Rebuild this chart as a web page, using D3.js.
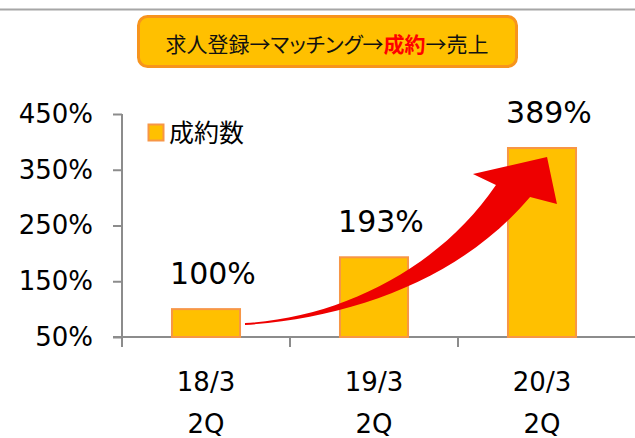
<!DOCTYPE html>
<html>
<head>
<meta charset="utf-8">
<script src="https://cdn.jsdelivr.net/npm/d3@7/dist/d3.min.js"></script>
<style>
  html, body { margin: 0; padding: 0; background: #fff; }
  svg { display: block; }
  text { font-family: "DejaVu Sans", Verdana, sans-serif; fill: #000; }
  .cjk { font-family: "Noto Sans CJK JP", "Noto Sans", sans-serif; }
  .banner { font-feature-settings: "palt"; }
</style>
</head>
<body>
<svg id="chart" width="635" height="438"></svg>
<script>
// Contracts closed, indexed to 18/3 2Q = 100%
const categories = ["18/3", "19/3", "20/3"];
const periodLabels = ["2Q", "2Q", "2Q"];
const contractIndex = [100, 193, 389];
const yTicks = [50, 150, 250, 350, 450];
const seriesName = "成約数";
const flowSteps = ["求人登録", "→マッチング→", "成約", "→売上"];

// Growth arrow outline, in (category position, index %) space
const arrowUpper = [[0.732, 75.1], [1.298, 84.1], [1.893, 173.8], [2.226, 322.6]];
const arrowHead = [[2.089, 342.4], [2.530, 372.9], [2.589, 288.6], [2.429, 301.1]];
const arrowLower = [[2.012, 152.2], [1.357, 84.1], [0.732, 71.5]];

const svg = d3.select("#chart");
const axisColor = "#8c8c8c";
const barFill = "#ffc000";
const barStroke = "#f79646";

const x = d3.scaleBand().domain(categories).range([122, 626]).paddingInner(0.595).paddingOuter(0.2975);
const xPos = d3.scaleLinear().domain([0, categories.length]).range([122, 626]);
const y = d3.scaleLinear().domain([50, 450]).range([337, 114]);

// Slide top rule
svg.append("line").attr("x1", 0).attr("x2", 635).attr("y1", 9.5).attr("y2", 9.5)
  .attr("stroke", "#a6a6a6").attr("stroke-width", 2);

// Process flow banner
svg.append("rect").attr("x", 138.5).attr("y", 16.5).attr("width", 378).attr("height", 50)
  .attr("rx", 9).attr("fill", barFill).attr("stroke", "#f7941d").attr("stroke-width", 3);
const banner = svg.append("text").attr("class", "cjk banner")
  .attr("x", 327).attr("y", 52).attr("text-anchor", "middle")
  .style("font-size", "21px");
banner.selectAll("tspan").data(flowSteps).join("tspan")
  .text(d => d)
  .style("fill", (d, i) => i === 2 ? "#ff0000" : "#111")
  .style("font-weight", (d, i) => i === 2 ? "bold" : "normal");

// Y axis
const yAxis = svg.append("g").attr("transform", "translate(122,0)")
  .call(d3.axisLeft(y).tickValues(yTicks).tickFormat(d => d + "%").tickSize(9).tickSizeOuter(0).tickPadding(20));
yAxis.select(".domain").attr("stroke", axisColor).attr("stroke-width", 2)
  .attr("d", `M0,${y(450)}V${y(50) + 10}`);
yAxis.selectAll(".tick line").attr("stroke", axisColor).attr("stroke-width", 2);
yAxis.selectAll(".tick text").style("font-size", "26px").attr("fill", "#000");

// X axis: baseline and ticks at category boundaries
svg.append("line").attr("x1", 113).attr("x2", 635).attr("y1", y(50)).attr("y2", y(50))
  .attr("stroke", axisColor).attr("stroke-width", 2);
svg.selectAll(".xtick").data(categories.slice(1)).join("line").attr("class", "xtick")
  .attr("x1", (d, i) => xPos(i + 1)).attr("x2", (d, i) => xPos(i + 1))
  .attr("y1", y(50)).attr("y2", y(50) + 10)
  .attr("stroke", axisColor).attr("stroke-width", 2);

// Bars
svg.selectAll(".bar").data(contractIndex).join("rect").attr("class", "bar")
  .attr("x", (d, i) => x(categories[i]))
  .attr("y", d => y(d))
  .attr("width", x.bandwidth())
  .attr("height", d => y(50) - y(d))
  .attr("fill", barFill).attr("stroke", barStroke).attr("stroke-width", 2);

// Growth arrow
const P = p => [xPos(p[0]), y(p[1])];
const u = arrowUpper.map(P), h = arrowHead.map(P), l = arrowLower.map(P);
const arrowPath = `M${u[0]}C${u[1]} ${u[2]} ${u[3]}L${h[0]}L${h[1]}L${h[2]}L${h[3]}C${l[0]} ${l[1]} ${l[2]}Z`;
svg.append("path").attr("d", arrowPath).attr("fill", "#ee0000");

// Value labels
svg.selectAll(".val").data(contractIndex).join("text").attr("class", "val")
  .attr("x", (d, i) => x(categories[i]) + x.bandwidth() / 2 + 7)
  .attr("y", d => y(d) - 25)
  .attr("text-anchor", "middle")
  .style("font-size", "30px")
  .text(d => d + "%");

// Category labels
const cat = svg.selectAll(".cat").data(categories).join("g").attr("class", "cat")
  .attr("transform", d => `translate(${x(d) + x.bandwidth() / 2},0)`);
cat.append("text").attr("y", 391).attr("text-anchor", "middle").style("font-size", "26px").text(d => d);
cat.append("text").attr("y", 433).attr("text-anchor", "middle").style("font-size", "26px")
  .text((d, i) => periodLabels[i]);

// Legend
svg.append("rect").attr("x", 148.5).attr("y", 124.5).attr("width", 15).attr("height", 16)
  .attr("fill", barFill).attr("stroke", barStroke).attr("stroke-width", 2);
svg.append("text").attr("class", "cjk").attr("x", 169).attr("y", 142)
  .style("font-size", "25px").text(seriesName);
</script>
</body>
</html>
